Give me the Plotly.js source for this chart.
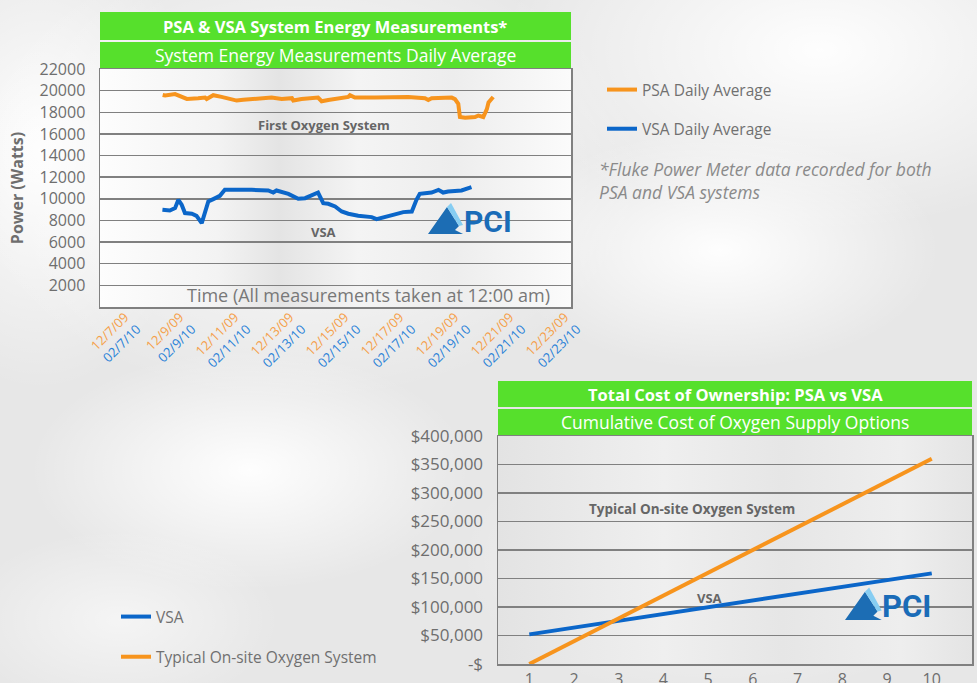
<!DOCTYPE html>
<html>
<head>
<meta charset="utf-8">
<script src="https://cdn.plot.ly/plotly-3.0.1.min.js"></script>
<style>html,body{margin:0;padding:0;background:#ececec;}#chart{width:977px;height:683px;}</style>
</head>
<body>
<div id="chart"></div>
<script>
// ---- Chart 1: PSA & VSA system energy (day offset from first tick) ----
const dayTicks = [0, 2, 4, 6, 8, 10, 12, 14, 16];
const psaDates = ["12/7/09","12/9/09","12/11/09","12/13/09","12/15/09","12/17/09","12/19/09","12/21/09","12/23/09"];
const vsaDates = ["02/7/10","02/9/10","02/11/10","02/13/10","02/15/10","02/17/10","02/19/10","02/21/10","02/23/10"];

const psaDays = [1.37, 1.46, 1.82, 2.00, 2.25, 2.66, 2.91, 2.97, 3.21, 3.51, 4.06, 4.30, 4.73, 5.33, 5.70, 6.07, 6.12, 6.42, 7.02, 7.15, 7.39, 7.76, 8.12, 8.18, 8.36, 9.09, 9.69, 10.30, 10.91, 11.03, 11.15, 11.88, 12.00, 12.12, 12.18, 12.37, 12.73, 12.85, 13.03, 13.16, 13.22, 13.39];
const psaWatts = [19600, 19550, 19680, 19520, 19230, 19300, 19360, 19220, 19580, 19420, 19080, 19160, 19220, 19360, 19220, 19300, 19080, 19220, 19360, 19020, 19140, 19300, 19420, 19580, 19360, 19360, 19420, 19420, 19300, 19140, 19300, 19360, 19220, 18780, 17560, 17500, 17560, 17700, 17560, 18290, 18900, 19420];

const vsaDays = [1.36, 1.63, 1.82, 1.94, 2.06, 2.18, 2.43, 2.60, 2.79, 2.91, 3.03, 3.21, 3.45, 3.63, 4.12, 4.42, 4.61, 5.21, 5.39, 5.51, 5.94, 6.30, 6.55, 7.02, 7.21, 7.39, 7.64, 7.88, 8.12, 8.48, 8.97, 9.15, 9.39, 9.75, 10.12, 10.43, 10.60, 10.72, 11.15, 11.40, 11.57, 11.75, 12.24, 12.60];
const vsaWatts = [8990, 8920, 9140, 9910, 9450, 8680, 8620, 8430, 7750, 8680, 9750, 9970, 10280, 10830, 10830, 10920, 10830, 10770, 10580, 10770, 10460, 10000, 10060, 10580, 9600, 9540, 9290, 8830, 8620, 8430, 8310, 8120, 8310, 8520, 8770, 8830, 9910, 10460, 10580, 10830, 10580, 10680, 10770, 11080];

const powerTicks = [2000, 4000, 6000, 8000, 10000, 12000, 14000, 16000, 18000, 20000, 22000];
const powerLabels = ["2000", "4000", "6000", "8000", "10000", "12000", "14000", "16000", "18000", "20000", "22000"];

// ---- Chart 2: Total cost of ownership ----
const years = [1, 2, 3, 4, 5, 6, 7, 8, 9, 10];
const vsaCost = [52000, 64000, 75000, 87000, 99000, 111000, 123000, 135000, 147000, 159000];
const typicalCost = [0, 40000, 80000, 120000, 160000, 200000, 240000, 280000, 320000, 360000];
const costTicks = [0, 50000, 100000, 150000, 200000, 250000, 300000, 350000, 400000];
const costLabels = ["-$", "$50,000", "$100,000", "$150,000", "$200,000", "$250,000", "$300,000", "$350,000", "$400,000"];

// ---- helpers ----
const W = 977, H = 683;
const px = x => x / W;
const py = y => 1 - y / H;
const ORANGE = "#f7941d", BLUE = "#0b66c9", GREEN = "#56e02c", GRID = "#808080", TXT = "#6e6e6e";
const FONT = "Open Sans, sans-serif";

const dateText = psaDates.map((d, i) =>
  '<span style="color:#f5a04a">' + d + '</span><br><span style="color:#2a82d8">' + vsaDates[i] + '</span>');

// background picture (soft fog + plot-area shading)
const svg = `<svg xmlns="http://www.w3.org/2000/svg" width="977" height="683">
<defs>
<radialGradient id="w"><stop offset="0" stop-color="#ffffff" stop-opacity="0.95"/><stop offset="1" stop-color="#ffffff" stop-opacity="0"/></radialGradient>
<linearGradient id="p1" x1="0" x2="1" y1="0" y2="0">
<stop offset="0" stop-color="#fdfdfd"/><stop offset="0.25" stop-color="#f3f3f3"/><stop offset="0.38" stop-color="#e4e4e4"/>
<stop offset="0.55" stop-color="#f4f4f4"/><stop offset="0.75" stop-color="#ededed"/><stop offset="1" stop-color="#fbfbfb"/></linearGradient>
<linearGradient id="p2" x1="0" x2="1" y1="0" y2="0">
<stop offset="0" stop-color="#e3e3e3"/><stop offset="0.35" stop-color="#efefef"/><stop offset="0.6" stop-color="#e6e6e6"/>
<stop offset="0.85" stop-color="#eeeeee"/><stop offset="1" stop-color="#e4e4e4"/></linearGradient>
</defs>
<rect width="977" height="683" fill="#e7e7e7"/>
<ellipse cx="40" cy="150" rx="160" ry="240" fill="url(#w)"/>
<ellipse cx="300" cy="170" rx="340" ry="230" fill="url(#w)"/>
<ellipse cx="820" cy="50" rx="320" ry="180" fill="url(#w)"/>
<ellipse cx="720" cy="250" rx="220" ry="120" fill="url(#w)"/>
<ellipse cx="250" cy="470" rx="220" ry="120" fill="url(#w)"/>
<ellipse cx="120" cy="620" rx="160" ry="90" fill="url(#w)" opacity="0.6"/>
<ellipse cx="720" cy="560" rx="260" ry="140" fill="url(#w)" opacity="0.7"/>
<rect x="100" y="69" width="471" height="238" fill="url(#p1)"/>
<rect x="498" y="436" width="474" height="228" fill="url(#p2)"/>
</svg>`;
const bgSrc = "data:image/svg+xml;charset=utf-8," + encodeURIComponent(svg);

const traces = [
  {x: psaDays, y: psaWatts, xaxis: "x", yaxis: "y", type: "scatter", mode: "lines",
   name: "PSA Daily Average", line: {color: ORANGE, width: 4}, legend: "legend", legendgroup: "a", hoverinfo: "skip"},
  {x: vsaDays, y: vsaWatts, xaxis: "x", yaxis: "y", type: "scatter", mode: "lines",
   name: "VSA Daily Average", line: {color: BLUE, width: 4}, legend: "legend", legendgroup: "b", hoverinfo: "skip"},
  {x: years, y: vsaCost, xaxis: "x2", yaxis: "y2", type: "scatter", mode: "lines",
   name: "VSA", line: {color: BLUE, width: 4}, legend: "legend2", legendgroup: "c", hoverinfo: "skip"},
  {x: years, y: typicalCost, xaxis: "x2", yaxis: "y2", type: "scatter", mode: "lines",
   name: "Typical On-site Oxygen System", line: {color: ORANGE, width: 4}, legend: "legend2", legendgroup: "d", hoverinfo: "skip"}
];

function rect(x0, y0, x1, y1, color) {
  return {type: "rect", xref: "paper", yref: "paper", x0: px(x0), x1: px(x1), y0: py(y1), y1: py(y0),
          fillcolor: color, line: {width: 0}, layer: "above"};
}
function poly(points, color) {
  const d = "M" + points.map(p => px(p[0]) + "," + py(p[1])).join(" L") + " Z";
  return {type: "path", xref: "paper", yref: "paper", path: d, fillcolor: color, line: {width: 0}, layer: "above"};
}
function logo(x, y, s) {
  // x,y = lower-left of the mark, s = scale
  return [
    poly([[x, y], [x + 19 * s, y - 27 * s], [x + 31 * s, y - 8 * s], [x + 27 * s, y - 4 * s], [x + 35 * s, y]], "#1c6db4"),
    poly([[x + 19 * s, y - 27 * s], [x + 23 * s, y - 31 * s], [x + 35 * s, y - 9 * s], [x + 31 * s, y - 8 * s]], "#86cdf2")
  ];
}
function ann(text, x, y, size, color, opts) {
  return Object.assign({text: text, xref: "paper", yref: "paper", x: px(x), y: py(y), showarrow: false,
    font: {family: FONT, size: size, color: color}, xanchor: "center", yanchor: "middle"}, opts || {});
}

const shapes = [
  rect(100, 12, 571, 40, GREEN), rect(100, 42, 571, 68, GREEN),
  rect(498, 381, 972, 407, GREEN), rect(498, 409, 972, 435, GREEN),
  ...logo(428, 234, 1.0), ...logo(845, 620, 1.05)
];

const annotations = [
  ann("<b>PSA & VSA System Energy Measurements*</b>", 335, 26, 16.5, "#ffffff"),
  ann("System Energy Measurements Daily Average", 335, 55, 17.5, "#ffffff"),
  ann("<b>Total Cost of Ownership: PSA vs VSA</b>", 735, 394, 16.5, "#ffffff"),
  ann("Cumulative Cost of Oxygen Supply Options", 735, 422, 17.5, "#ffffff"),
  ann("Time (All measurements taken at 12:00 am)", 368, 295, 18, "#787878"),
  ann("<b>First Oxygen System</b>", 324, 125, 13, "#666666"),
  ann("<b>VSA</b>", 323, 232, 13, "#666666"),
  ann("<b>Typical On-site Oxygen System</b>", 692, 509, 13.5, "#666666"),
  ann("<b>VSA</b>", 709, 598, 13, "#666666"),
  ann("<i>*Fluke Power Meter data recorded for both<br>PSA and VSA systems</i>", 597, 180, 17.5, "#8a8a8a",
      {xanchor: "left", align: "left"}),
  ann("<b>PCI</b>", 488, 221, 30, "#1a6cb8", {font: {family: "Roboto, sans-serif", size: 30, color: "#1a6cb8"}}),
  ann("<b>PCI</b>", 906, 606, 31, "#1a6cb8", {font: {family: "Roboto, sans-serif", size: 31, color: "#1a6cb8"}})
];

const axisCommon = {showline: true, mirror: true, linecolor: GRID, linewidth: 1.5, zeroline: false,
  automargin: false, ticks: "", tickfont: {family: FONT, size: 16, color: TXT}};

const layout = {
  width: W, height: H,
  margin: {l: 0, r: 0, t: 0, b: 0},
  paper_bgcolor: "#e8e8e8", plot_bgcolor: "rgba(0,0,0,0)",
  font: {family: FONT, color: TXT},
  images: [{source: bgSrc, xref: "paper", yref: "paper", x: 0, y: 1, sizex: 1, sizey: 1,
            sizing: "stretch", xanchor: "left", yanchor: "top", layer: "below"}],
  xaxis: Object.assign({}, axisCommon, {domain: [px(100), px(571)], range: [-0.91, 16.22], anchor: "y",
    tickmode: "array", tickvals: dayTicks, ticktext: dateText, tickangle: -45, showgrid: false,
    ticklabelstandoff: -4,
    tickfont: {family: FONT, size: 13, color: TXT}}),
  yaxis: Object.assign({}, axisCommon, {domain: [py(307), py(69)], range: [0, 22000], anchor: "x",
    tickmode: "array", tickvals: powerTicks, ticktext: powerLabels, showgrid: true, gridcolor: GRID, gridwidth: 1.5,
    ticklabelstandoff: 10,
    title: {text: "<b>Power (Watts)</b>", font: {family: FONT, size: 16, color: TXT}, standoff: 12}}),
  xaxis2: Object.assign({}, axisCommon, {domain: [px(498), px(972)], range: [0.3, 10.9], anchor: "y2",
    tickmode: "array", tickvals: years, showgrid: false}),
  yaxis2: Object.assign({}, axisCommon, {domain: [py(664), py(436)], range: [0, 400000], anchor: "x2",
    tickmode: "array", tickvals: costTicks, ticktext: costLabels, showgrid: true, gridcolor: GRID,
    gridwidth: 1.5, ticklabelstandoff: 10, tickfont: {family: FONT, size: 17, color: TXT}}),
  legend: {x: px(602), y: py(73), xanchor: "left", yanchor: "top", bgcolor: "rgba(0,0,0,0)",
    font: {family: FONT, size: 15.5, color: "#707070"}, tracegroupgap: 16, itemwidth: 30},
  legend2: {x: px(116), y: py(600), xanchor: "left", yanchor: "top", bgcolor: "rgba(0,0,0,0)",
    font: {family: FONT, size: 15.5, color: "#707070"}, tracegroupgap: 17, itemwidth: 30},
  showlegend: true,
  shapes: shapes,
  annotations: annotations
};

Plotly.newPlot("chart", traces, layout, {staticPlot: true, displayModeBar: false});
</script>
</body>
</html>
